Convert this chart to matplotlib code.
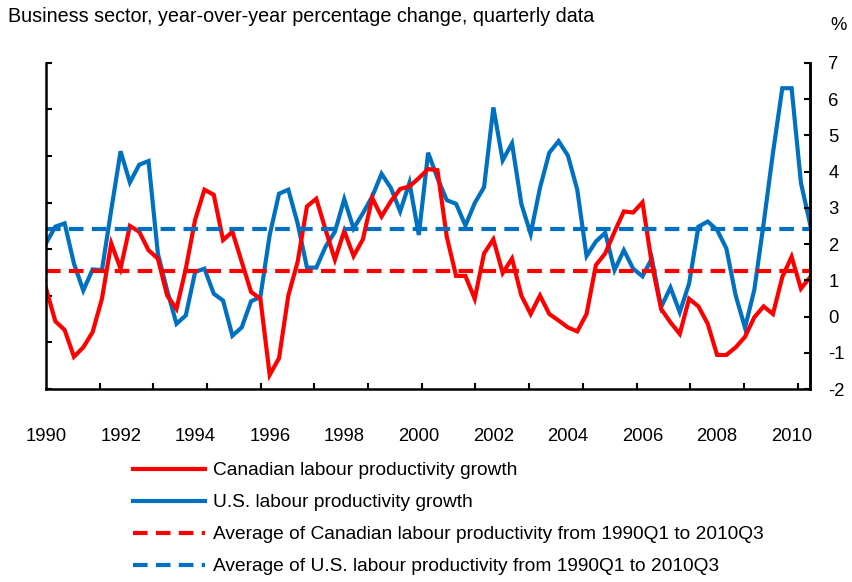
import numpy as np
import matplotlib
matplotlib.use('Agg')
import matplotlib.pyplot as plt
from matplotlib.lines import Line2D

plt.rcParams['font.family'] = ['Liberation Sans', 'DejaVu Sans']
plt.rcParams['axes.unicode_minus'] = False

# 季度数据 1990Q1 - 2010Q3
start_year = 1990
canada = [0.78, -0.13, -0.37, -1.11, -0.85, -0.43, 0.49, 2.02, 1.32, 2.5,
          2.34, 1.83, 1.6, 0.58, 0.21, 1.32, 2.67, 3.5, 3.36, 2.11,
          2.34, 1.51, 0.68, 0.49, -1.61, -1.15, 0.58, 1.51, 3.04, 3.25,
          2.39, 1.57, 2.36, 1.67, 2.13, 3.27, 2.76, 3.18, 3.52, 3.59,
          3.82, 4.07, 4.04, 2.2, 1.12, 1.12, 0.49, 1.74, 2.13, 1.2,
          1.6, 0.58, 0.07, 0.58, 0.07, -0.11, -0.3, -0.41, 0.07, 1.42,
          1.74, 2.34, 2.9, 2.87, 3.15, 1.46, 0.21, -0.16, -0.48, 0.49,
          0.28, -0.2, -1.06, -1.06, -0.85, -0.56, -0.02, 0.28, 0.07, 1.09,
          1.65, 0.77, 1.09]
us = [2.02, 2.48, 2.57, 1.46, 0.72, 1.3, 1.28, 2.94, 4.56, 3.7,
      4.19, 4.29, 1.74, 0.72, -0.2, 0.03, 1.23, 1.32, 0.63, 0.44,
      -0.53, -0.3, 0.42, 0.54, 2.25, 3.39, 3.5, 2.57, 1.35, 1.35,
      1.93, 2.34, 3.24, 2.43, 2.85, 3.31, 3.94, 3.55, 2.9, 3.69,
      2.25, 4.52, 3.82, 3.21, 3.11, 2.51, 3.13, 3.57, 5.77, 4.31,
      4.78, 3.11, 2.28, 3.55, 4.52, 4.84, 4.44, 3.5, 1.67, 2.07,
      2.31, 1.28, 1.83, 1.32, 1.11, 1.6, 0.26, 0.8, 0.12, 0.91,
      2.48, 2.62, 2.39, 1.88, 0.58, -0.31, 0.74, 2.57, 4.52, 6.3,
      6.3, 3.69, 2.53]
canada_avg = 1.25
us_avg = 2.42
year_labels = list(range(1990, 2011, 2))

labels = ['Canadian labour productivity growth',
          'U.S. labour productivity growth',
          'Average of Canadian labour productivity from 1990Q1 to 2010Q3',
          'Average of U.S. labour productivity from 1990Q1 to 2010Q3']

RED = '#FF0000'
BLUE = '#0070C0'

x = start_year + np.arange(len(canada)) / 4

fig, ax = plt.subplots(figsize=(8.52, 5.82), dpi=100)
fig.subplots_adjust(left=0.054, right=0.951, bottom=0.3316, top=0.892)

ax.plot(x, us, color=BLUE, lw=3, solid_joinstyle='miter')
ax.plot(x, canada, color=RED, lw=3, solid_joinstyle='miter')
ax.axhline(us_avg, color=BLUE, lw=3, ls=(0, (3.5, 2)))
ax.axhline(canada_avg, color=RED, lw=3, ls=(0, (3.5, 2)))

ax.set_xlim(x[0], x[-1])
ax.set_ylim(-2, 7)

# 左轴：只有刻度线
ax.set_yticks(np.linspace(-2, 7, 8))
ax.tick_params(axis='y', direction='in', length=4.5, width=1.5, labelleft=False)

# x轴：年份标签 + 不对齐的刻度线
ax.set_xticks(year_labels)
ax.set_xticklabels([str(y) for y in year_labels])
ax.set_xticks(np.arange(start_year + 1.44, 2010.5, 1.44), minor=True)
ax.tick_params(axis='x', which='major', length=0, pad=28, labelsize=13.3)
ax.tick_params(axis='x', which='minor', direction='in', length=4.5, width=1.5)

ax.spines['top'].set_visible(False)
for s in ['left', 'bottom', 'right']:
    ax.spines[s].set_linewidth(1.8)

# 右轴
ax2 = ax.twinx()
ax2.set_ylim(-2, 7)
ax2.set_yticks(range(-2, 8))
ax2.tick_params(axis='y', direction='in', length=4.5, width=1.5, pad=13, labelsize=13.3)
for s in ['top', 'left', 'bottom']:
    ax2.spines[s].set_visible(False)
ax2.spines['right'].set_linewidth(1.8)

fig.text(8 / 852, 1 - 17 / 582, 'Business sector, year-over-year percentage change, quarterly data',
         fontsize=14.2, va='center', ha='left')
fig.text(830 / 852, 1 - 25 / 582, '%', fontsize=13.3, va='center', ha='left')

handles = [Line2D([], [], color=RED, lw=3),
           Line2D([], [], color=BLUE, lw=3),
           Line2D([], [], color=RED, lw=3, ls=(0, (3.5, 2))),
           Line2D([], [], color=BLUE, lw=3, ls=(0, (3.5, 2)))]
fig.legend(handles, labels, loc='upper left', bbox_to_anchor=(133 / 852, 1 - 462 / 582),
           frameon=False, fontsize=13.8, handlelength=3.76, handletextpad=0.42,
           labelspacing=0.76, borderpad=0, borderaxespad=0)

fig.savefig('out.png', dpi=100)
